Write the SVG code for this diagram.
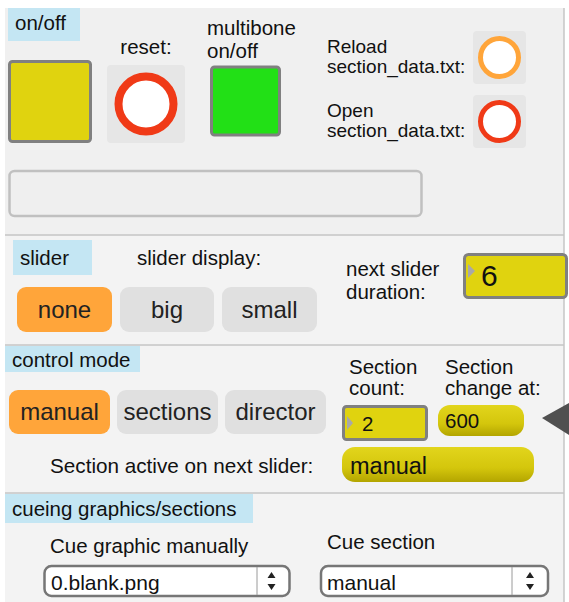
<svg xmlns="http://www.w3.org/2000/svg" width="569" height="602" viewBox="0 0 569 602">
  <style>
    text { font-family: "Liberation Sans", Arial, Helvetica, sans-serif; fill: #111; }
    .lbl { font-size: 20.5px; }
    .small { font-size: 19px; }
    .cap { fill: #c4e6f3; }
    .panel { fill: #f0f0f0; }
    .sep { stroke: #c6c6c6; stroke-width: 1.5; }
    .btnOn { fill: #ffa53a; }
    .btnOff { fill: #e0e0e0; }
    .btnTxt { font-size: 24px; text-anchor: middle; fill: #222; }
    .num { fill: #e0d30f; stroke: #808080; stroke-width: 3; }
    .tri { fill: #a8a8a8; }
    .pill { fill: url(#pillGrad); }
    .bangBg { fill: #e6e6e6; }
    .menu { fill: #ffffff; stroke: #767676; stroke-width: 2.5; }
  </style>
  <defs>
    <linearGradient id="pillGrad" x1="0" y1="0" x2="0" y2="1">
      <stop offset="0" stop-color="#e2d51c"/>
      <stop offset="0.6" stop-color="#d4c60c"/>
      <stop offset="1" stop-color="#b3a500"/>
    </linearGradient>
  </defs>

  <rect x="0" y="0" width="569" height="602" fill="#ffffff"/>
  <rect class="panel" x="5" y="8" width="559" height="594"/>
  <rect x="5" y="236" width="559" height="109" fill="#f3f3f3"/>
  <rect x="5" y="346" width="559" height="147" fill="#f3f3f3"/>
  <rect x="5" y="494" width="559" height="108" fill="#f3f3f3"/>
  <line class="sep" x1="564" y1="8" x2="564" y2="602"/>
  <line class="sep" x1="5" y1="235" x2="564" y2="235"/>
  <line class="sep" x1="5" y1="345" x2="564" y2="345"/>
  <line class="sep" x1="5" y1="493" x2="564" y2="493"/>

  <!-- on/off section -->
  <g id="onoff-caption">
    <rect class="cap" x="8" y="8" width="72" height="33"/>
    <text class="lbl" x="15" y="30">on/off</text>
  </g>
  <g id="onoff-toggle">
    <rect x="9.5" y="61.5" width="81" height="80" rx="3" fill="#e0d30f" stroke="#808080" stroke-width="3"/>
  </g>
  <g id="reset">
    <text class="lbl" x="146" y="54" text-anchor="middle">reset:</text>
    <rect class="bangBg" x="107" y="65" width="78" height="78" rx="4"/>
    <circle cx="146" cy="104" r="27.5" fill="#ffffff" stroke="#f03a17" stroke-width="8"/>
  </g>
  <g id="multibone">
    <text class="lbl" x="207" y="35">multibone</text>
    <text class="lbl" x="207" y="58">on/off</text>
    <rect x="211.5" y="67" width="68" height="68" rx="3" fill="#22e016" stroke="#808080" stroke-width="3"/>
  </g>
  <g id="message-box">
    <rect x="9.5" y="171" width="412" height="45" rx="5" fill="#efefef" stroke="#c0c0c0" stroke-width="2.5"/>
  </g>
  <g id="reload">
    <text class="small" x="327" y="53">Reload</text>
    <text class="small" x="327" y="73">section_data.txt:</text>
    <rect class="bangBg" x="473" y="31" width="53" height="53" rx="4"/>
    <circle cx="499.5" cy="57.5" r="19" fill="#ffffff" stroke="#ffa53a" stroke-width="5"/>
  </g>
  <g id="open">
    <text class="small" x="327" y="117">Open</text>
    <text class="small" x="327" y="137">section_data.txt:</text>
    <rect class="bangBg" x="473" y="95" width="53" height="53" rx="4"/>
    <circle cx="499.5" cy="121.5" r="19" fill="#ffffff" stroke="#f03a17" stroke-width="5"/>
  </g>

  <!-- slider section -->
  <g id="slider-caption">
    <rect class="cap" x="13" y="240" width="79" height="35"/>
    <text class="lbl" x="20" y="265">slider</text>
  </g>
  <g id="slider-display">
    <text class="lbl" x="137" y="265">slider display:</text>
    <rect class="btnOn" x="17" y="287" width="95" height="45" rx="9"/>
    <text class="btnTxt" x="64.5" y="318">none</text>
    <rect class="btnOff" x="120" y="287" width="94" height="45" rx="9"/>
    <text class="btnTxt" x="167" y="318">big</text>
    <rect class="btnOff" x="222" y="287" width="95" height="45" rx="9"/>
    <text class="btnTxt" x="269.5" y="318">small</text>
  </g>
  <g id="next-slider-duration">
    <text class="lbl" x="346" y="276">next slider</text>
    <text class="lbl" x="346" y="299">duration:</text>
    <rect class="num" x="464.5" y="254.5" width="102" height="43" rx="4"/>
    <path class="tri" d="M468 264 L475 271 L468 278 Z"/>
    <text x="481" y="286" font-size="30">6</text>
  </g>

  <!-- control mode section -->
  <g id="control-caption">
    <rect class="cap" x="5" y="346" width="135" height="26"/>
    <text class="lbl" x="12" y="367">control mode</text>
  </g>
  <g id="control-mode">
    <rect class="btnOn" x="9" y="390" width="101" height="44" rx="9"/>
    <text class="btnTxt" x="59.5" y="420">manual</text>
    <rect class="btnOff" x="117" y="390" width="101" height="44" rx="9"/>
    <text class="btnTxt" x="167.5" y="420">sections</text>
    <rect class="btnOff" x="225" y="390" width="101" height="44" rx="9"/>
    <text class="btnTxt" x="275.5" y="420">director</text>
  </g>
  <g id="section-count">
    <text class="lbl" x="349" y="374">Section</text>
    <text class="lbl" x="349" y="395">count:</text>
    <rect class="num" x="343.5" y="406.5" width="83" height="33" rx="3"/>
    <path class="tri" d="M347 416 L353 423 L347 430 Z"/>
    <text x="362" y="431" font-size="20.5">2</text>
  </g>
  <g id="section-change">
    <text class="lbl" x="445" y="374">Section</text>
    <text class="lbl" x="445" y="395">change at:</text>
    <rect class="pill" x="438" y="405" width="86" height="31" rx="12"/>
    <text x="445" y="428" font-size="20.5">600</text>
  </g>
  <g id="section-active">
    <text x="50" y="473" font-size="20.7">Section active on next slider:</text>
    <rect class="pill" x="342" y="447" width="192" height="35" rx="13"/>
    <text x="350" y="474" font-size="23.5">manual</text>
  </g>
  <g id="pointer">
    <path d="M542 418 L569 403 L569 435 Z" fill="#505050"/>
  </g>

  <!-- cueing section -->
  <g id="cue-caption">
    <rect class="cap" x="5" y="494" width="248" height="29"/>
    <text class="lbl" x="12" y="516">cueing graphics/sections</text>
  </g>
  <g id="cue-graphic">
    <text class="lbl" x="50" y="553">Cue graphic manually</text>
    <rect class="menu" x="44.5" y="566" width="245" height="30" rx="7"/>
    <line x1="257" y1="567" x2="257" y2="595" stroke="#9a9a9a" stroke-width="1"/>
    <path d="M267.5 578 L271.5 572 L275.5 578 Z M267.5 584 L271.5 590 L275.5 584 Z" fill="#222"/>
    <text x="51" y="590" font-size="21">0.blank.png</text>
  </g>
  <g id="cue-section">
    <text class="lbl" x="327" y="549">Cue section</text>
    <rect class="menu" x="321" y="566" width="227" height="30" rx="7"/>
    <line x1="512" y1="567" x2="512" y2="595" stroke="#9a9a9a" stroke-width="1"/>
    <path d="M526 578 L530 572 L534 578 Z M526 584 L530 590 L534 584 Z" fill="#222"/>
    <text x="327" y="590" font-size="21">manual</text>
  </g>
</svg>
